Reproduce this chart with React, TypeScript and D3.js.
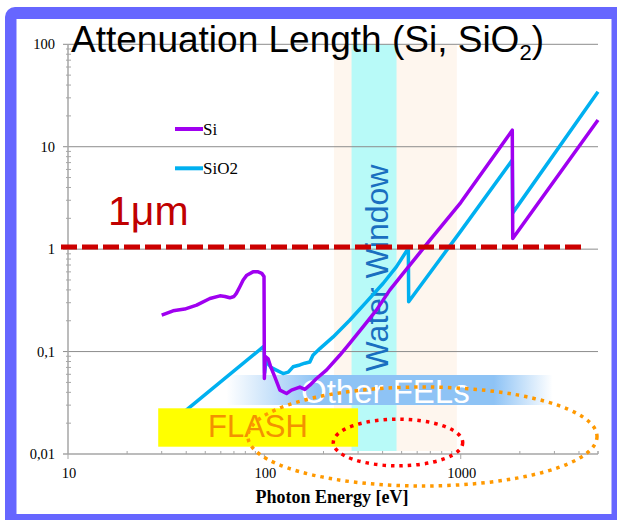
import React from 'react';
import * as d3 from 'd3';

// photon energy [eV] and attenuation length [um]
const siEnergy = [30, 34.3, 39.3, 45.2, 52.8, 59.4, 63, 66.7, 70, 72, 75, 78, 81.4, 87.5, 93, 97, 99.6, 100, 100.9, 104.5, 108, 113, 120, 129.7, 137.4, 151.6, 160.7, 170.4, 184.4, 207, 242, 272, 318, 372, 435, 509, 595, 695, 1000, 1830, 1840, 5000];
const siLength = [0.227, 0.25, 0.26, 0.284, 0.33, 0.35, 0.345, 0.335, 0.345, 0.37, 0.43, 0.5, 0.557, 0.6, 0.6, 0.58, 0.54, 0.0546, 0.09, 0.085, 0.07, 0.0566, 0.042, 0.039, 0.042, 0.045, 0.0427, 0.047, 0.0546, 0.0658, 0.092, 0.12, 0.174, 0.254, 0.398, 0.579, 0.84, 1.22, 2.85, 14.5, 1.27, 18.2];

const sio2Energy = [35, 40, 98.6, 99.8, 100.3, 102, 108, 115, 124.6, 132.4, 140, 151.6, 160.7, 170.4, 176.8, 191.7, 224, 272, 331, 402, 470, 541, 543, 1000, 1830, 1840, 5000];
const sio2Length = [0.022, 0.0268, 0.111, 0.113, 0.062, 0.082, 0.07, 0.066, 0.061, 0.063, 0.071, 0.074, 0.077, 0.079, 0.092, 0.107, 0.139, 0.202, 0.306, 0.462, 0.672, 1.02, 0.306, 1.5, 7.4, 2.26, 34.4];

const seriesNames = ['Si', 'SiO2'];
const seriesColors = ['#a000f0', '#00b0f0'];

const xTickValues = [10, 100, 1000];
const xTickLabels = ['10', '100', '1000'];
const yTickValues = [0.01, 0.1, 1, 10, 100];
const yTickLabels = ['0,01', '0,1', '1', '10', '100'];

// highlighted energy ranges [eV]
const waterWindow = [278, 471];
const wideWindow = [226, 955];
const flashRange = [28.8, 300];
const otherFelsRange = [64, 2940];
const oneMicron = 1.05;

const App = () => {
  const width = 617;
  const height = 520;
  const plot = { left: 68, right: 598, top: 44.3, bottom: 454 };

  const x = d3.scaleLog().domain([10, 5000]).range([plot.left, plot.right]);
  const y = d3.scaleLog().domain([0.01, 100]).range([plot.bottom, plot.top]);

  const line = d3.line<[number, number]>()
    .x(d => x(d[0]))
    .y(d => y(d[1]));

  const siPts = siEnergy.map((e, i) => [e, siLength[i]] as [number, number]);
  const sio2Pts = sio2Energy.map((e, i) => [e, sio2Length[i]] as [number, number]);

  const xMinor = x.ticks().filter(t => !xTickValues.includes(t) && t <= 5000);
  const yMinor = y.ticks().filter(t => !yTickValues.some(v => Math.abs(v - t) < 1e-9));

  const serif = '"Liberation Serif", "Times New Roman", serif';
  const sans = '"Liberation Sans", Arial, sans-serif';

  return (
    <svg width={width} height={height} style={{ position: 'absolute', left: 0, top: 0 }}>
      <defs>
        <linearGradient id="felGrad" x1="0" x2="1" y1="0" y2="0">
          <stop offset="0" stopColor="#8ec3f5" stopOpacity="0" />
          <stop offset="0.28" stopColor="#8ec3f5" stopOpacity="1" />
          <stop offset="0.82" stopColor="#8ec3f5" stopOpacity="1" />
          <stop offset="1" stopColor="#8ec3f5" stopOpacity="0" />
        </linearGradient>
      </defs>

      {/* frame */}
      <rect x={5} y={7} width={640} height={540} rx={10} fill="#6666ff" />
      <rect x={16.5} y={19} width={595} height={495} fill="#ffffff" />

      {/* energy bands */}
      <rect x={x(wideWindow[0])} y={plot.top} width={x(wideWindow[1]) - x(wideWindow[0])}
        height={plot.bottom - plot.top - 3} fill="#fef6ee" />
      <rect x={x(waterWindow[0])} y={plot.top} width={x(waterWindow[1]) - x(waterWindow[0])}
        height={plot.bottom - plot.top - 3} fill="#b8faf8" />

      {/* gridlines */}
      {yTickValues.slice(1).map(v => (
        <line key={v} x1={plot.left - 5} x2={plot.right} y1={y(v)} y2={y(v)} stroke="#8c8c8c" strokeWidth={1} />
      ))}

      {/* axes */}
      <line x1={plot.left} x2={plot.left} y1={plot.top} y2={plot.bottom} stroke="#a6a6a6" strokeWidth={1.5} />
      <line x1={plot.left - 5} x2={plot.right} y1={plot.bottom} y2={plot.bottom} stroke="#a6a6a6" strokeWidth={1.5} />
      {yMinor.map(v => (
        <line key={'ym' + v} x1={plot.left - 2} x2={plot.left + 3} y1={y(v)} y2={y(v)} stroke="#a6a6a6" strokeWidth={1} />
      ))}
      {xMinor.map(v => (
        <line key={'xm' + v} x1={x(v)} x2={x(v)} y1={plot.bottom - 3} y2={plot.bottom} stroke="#a6a6a6" strokeWidth={1} />
      ))}
      {xTickValues.map(v => (
        <line key={'xt' + v} x1={x(v)} x2={x(v)} y1={plot.bottom} y2={plot.bottom + 5} stroke="#a6a6a6" strokeWidth={1} />
      ))}
      <line x1={plot.right} x2={plot.right} y1={plot.bottom - 3} y2={plot.bottom} stroke="#a6a6a6" strokeWidth={1} />

      {yTickValues.map((v, i) => (
        <text key={'yl' + v} x={plot.left - 13} y={y(v) + 5} textAnchor="end" fontFamily={serif} fontSize={14.5} fill="#000">
          {yTickLabels[i]}
        </text>
      ))}
      {xTickValues.map((v, i) => (
        <text key={'xl' + v} x={x(v) + 1} y={478} textAnchor="middle" fontFamily={serif} fontSize={14.5} fill="#000">
          {xTickLabels[i]}
        </text>
      ))}
      <text x={332} y={503} textAnchor="middle" fontFamily={serif} fontWeight="bold" fontSize={18} fill="#000">
        Photon Energy [eV]
      </text>

      {/* Water Window label */}
      <text transform={`translate(${388},${268}) rotate(-90)`} textAnchor="middle" fontFamily={sans}
        fontSize={32} fill="#1a6fc0">
        Water Window
      </text>

      {/* Other FELs band */}
      <rect x={x(otherFelsRange[0])} y={375} width={x(otherFelsRange[1]) - x(otherFelsRange[0])} height={30}
        fill="url(#felGrad)" />
      <text x={301} y={403} fontFamily={sans} fontSize={33} fill="#ffffff">Other FELs</text>

      {/* curves */}
      <path d={line(sio2Pts) || ''} fill="none" stroke={seriesColors[1]} strokeWidth={3.5} strokeLinejoin="round" />
      <path d={line(siPts) || ''} fill="none" stroke={seriesColors[0]} strokeWidth={3.5} strokeLinejoin="round" />

      {/* FLASH box */}
      <rect x={x(flashRange[0])} y={408.3} width={x(flashRange[1]) - x(flashRange[0])} height={38.4} fill="#ffff00" />
      <text x={208} y={437} fontFamily={sans} fontSize={31} fill="#f39200">FLASH</text>

      {/* ellipses */}
      <ellipse cx={422.5} cy={436.5} rx={174.5} ry={49.5} fill="none" stroke="#ff9900" strokeWidth={3.5} strokeDasharray="3.5 5" />
      <ellipse cx={398} cy={442.5} rx={64.7} ry={23.3} fill="none" stroke="#ff0000" strokeWidth={3.5} strokeDasharray="3.5 5" />

      {/* 1 um line */}
      <line x1={61} x2={583} y1={y(oneMicron)} y2={y(oneMicron)} stroke="#cc0000" strokeWidth={5} strokeDasharray="16 5" />
      <text x={108} y={225} fontFamily={sans} fontSize={41} fill="#c00000">1μm</text>

      {/* legend */}
      {seriesNames.map((name, i) => (
        <g key={name}>
          <line x1={175} x2={203} y1={129 + i * 39.3} y2={129 + i * 39.3} stroke={seriesColors[i]} strokeWidth={4} />
          <text x={203} y={135 + i * 39.3} fontFamily={serif} fontSize={17} fill="#000">{name}</text>
        </g>
      ))}

      {/* title */}
      <text x={71} y={51.5} fontFamily={sans} fontSize={37} fill="#000">
        Attenuation Length (Si, SiO<tspan fontSize={22} dy={8}>2</tspan><tspan dy={-8}>)</tspan>
      </text>
    </svg>
  );
};

export default App;
